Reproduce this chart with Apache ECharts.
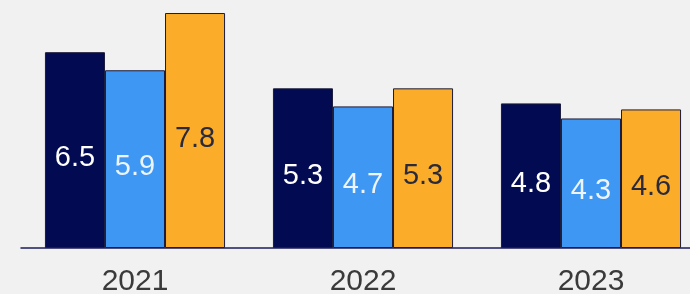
<!DOCTYPE html>
<html>
<head>
<meta charset="utf-8">
<script src="https://cdn.jsdelivr.net/npm/echarts@6/dist/echarts.min.js"></script>
<style>
  html, body { margin: 0; padding: 0; background: #f1f1f1; overflow: hidden; }
  #main { width: 705px; height: 294px; }
</style>
</head>
<body>
<div id="main"></div>
<script>
var years = ['2021', '2022', '2023'];
var seriesA = [6.5, 5.3, 4.8];
var seriesB = [5.9, 4.7, 4.3];
var seriesC = [7.8, 5.3, 4.6];

function bar(data, color, labelColor) {
  return {
    type: 'bar',
    data: data,
    barGap: '0%',
    barCategoryGap: '21%',
    itemStyle: { color: color, borderColor: '#1b1b3a', borderWidth: 1 },
    label: {
      show: true,
      position: 'inside',
      offset: [0, 8],
      color: labelColor,
      fontSize: 29,
      fontFamily: 'Liberation Sans, Arial, sans-serif'
    }
  };
}

// chart is a bit wider than the window: the last group runs off the right edge
var chart = echarts.init(document.getElementById('main'));
chart.setOption({
  backgroundColor: '#f1f1f1',
  animation: false,
  grid: { left: 21, top: 7, bottom: 46, right: 0, outerBoundsMode: 'none' },
  xAxis: {
    type: 'category',
    data: years,
    axisLine: { lineStyle: { color: '#1c1c5c', width: 1.5 } },
    axisTick: { show: false },
    axisLabel: {
      color: '#3a3a3a',
      fontSize: 30,
      margin: 19,
      fontFamily: 'Liberation Sans, Arial, sans-serif'
    }
  },
  yAxis: {
    type: 'value',
    min: 0,
    max: 8,
    show: false,
    splitLine: { show: false }
  },
  series: [
    bar(seriesA, '#020a52', '#ffffff'),
    bar(seriesB, '#3d97f3', '#eef4fb'),
    bar(seriesC, '#fbad2a', '#2a2a3a')
  ]
});
</script>
</body>
</html>
